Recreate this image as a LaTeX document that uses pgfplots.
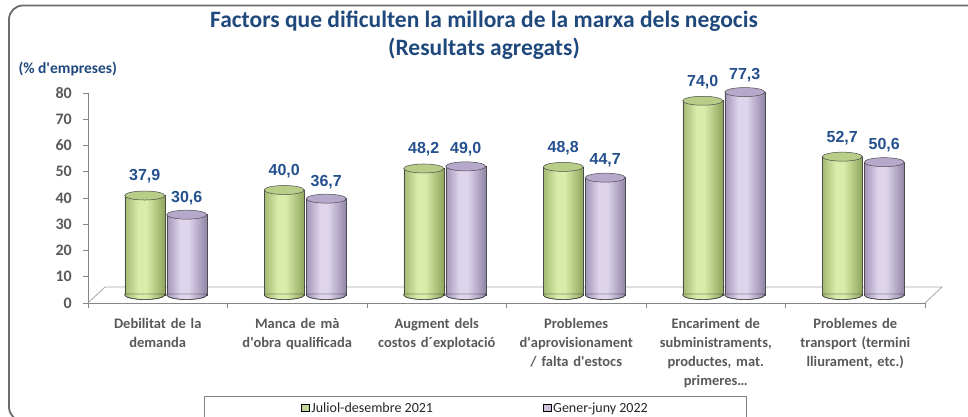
\documentclass[border=0pt]{standalone}
\usepackage{fontspec}
\setmainfont{Carlito}
\newfontfamily\arialf{Liberation Sans}
\usepackage{pgfplots}
\pgfplotsset{compat=1.18}
\newcommand\q{\textquotesingle}

\definecolor{titleblue}{HTML}{1F497D}
\definecolor{lblblue}{HTML}{24508E}
\definecolor{txtgray}{HTML}{595959}
\definecolor{axgray}{HTML}{868686}
\definecolor{floorgray}{HTML}{A6A6A6}
\definecolor{framegray}{HTML}{6B6B6B}
\definecolor{gL}{HTML}{A3BA72}
\definecolor{gC}{HTML}{DAEBAA}
\definecolor{gR}{HTML}{8FA65C}
\definecolor{gTop}{HTML}{B7CD88}
\definecolor{pL}{HTML}{A294B8}
\definecolor{pC}{HTML}{DED5ED}
\definecolor{pR}{HTML}{9185A8}
\definecolor{pTop}{HTML}{B5A8CB}
\definecolor{legG}{HTML}{C3D69B}
\definecolor{legP}{HTML}{CCC1DA}

\pgfdeclarehorizontalshading{gcylsh}{100bp}{color(0bp)=(gL); color(25bp)=(gL); color(42bp)=(gC); color(52bp)=(gC); color(75bp)=(gR); color(100bp)=(gR)}
\pgfdeclarehorizontalshading{pcylsh}{100bp}{color(0bp)=(pL); color(25bp)=(pL); color(42bp)=(pC); color(52bp)=(pC); color(75bp)=(pR); color(100bp)=(pR)}

\pgfdeclareplotmark{gtop}{\filldraw[fill=gTop, draw=black!70, line width=0.5pt] (-13pt,8pt) ellipse [x radius=20pt, y radius=4.5pt];}
\pgfdeclareplotmark{ptop}{\filldraw[fill=pTop, draw=black!70, line width=0.5pt] (29pt,8pt) ellipse [x radius=20pt, y radius=4.5pt];}
\pgfdeclareplotmark{gbot}{%
  \shade[shading=gcylsh] (-33pt,9pt) -- (-33pt,8pt) arc[start angle=180, end angle=360, x radius=20pt, y radius=4.5pt] -- (7pt,9pt) -- cycle;
  \draw[black!70, line width=0.5pt] (-33pt,9pt) -- (-33pt,8pt) arc[start angle=180, end angle=360, x radius=20pt, y radius=4.5pt] -- (7pt,9pt);}
\pgfdeclareplotmark{pbot}{%
  \shade[shading=pcylsh] (9pt,9pt) -- (9pt,8pt) arc[start angle=180, end angle=360, x radius=20pt, y radius=4.5pt] -- (49pt,9pt) -- cycle;
  \draw[black!70, line width=0.5pt] (9pt,9pt) -- (9pt,8pt) arc[start angle=180, end angle=360, x radius=20pt, y radius=4.5pt] -- (49pt,9pt);}

\newcommand\gcyl[2]{\addplot[forget plot, ybar, bar width=40pt, bar shift=-13pt, yshift=8pt, draw=black!70, line width=0.5pt, shade, shading=gcylsh] coordinates {(#1,#2)};}
\newcommand\pcyl[2]{\addplot[forget plot, ybar, bar width=40pt, bar shift=29pt, yshift=8pt, draw=black!70, line width=0.5pt, shade, shading=pcylsh] coordinates {(#1,#2)};}

\begin{document}
\begin{tikzpicture}
\draw[framegray, line width=1.8pt, rounded corners=14pt] (9pt,-4pt) rectangle (990pt,411.5pt);
\node[font=\bfseries\fontsize{23.5}{28}\selectfont, text=titleblue, align=center] at (484pt,382pt) {Factors que dificulten la millora de la marxa dels negocis\\(Resultats agregats)};
\node[font=\bfseries\fontsize{15.5}{17}\selectfont, text=titleblue, anchor=west] at (15pt,348pt) {(\% d\q empreses)};
\begin{axis}[
  at={(88pt,114pt)}, anchor=south west,
  scale only axis, width=837pt, height=210pt,
  xmin=-0.5, xmax=5.5, ymin=0, ymax=80,
  clip=false,
  axis x line*=bottom, axis y line*=left,
  axis line style={draw=axgray, line width=0.8pt, -},
  tick align=outside,
  /pgf/number format/assume math mode=true,
  ytick={0,10,20,30,40,50,60,70,80},
  yticklabels={0,10,20,30,40,50,60,70,80},
  major y tick style={draw=axgray, line width=0.8pt},
  major tick length=5pt,
  minor tick length=5pt,
  xtick={0,1,2,3,4,5},
  minor xtick={-0.5,0.5,1.5,2.5,3.5,4.5,5.5},
  major x tick style={draw=none},
  minor x tick style={draw=axgray, line width=0.8pt},
  yticklabel style={font=\bfseries\fontsize{16}{18}\selectfont, text=txtgray, anchor=east, text width=24pt, align=right, inner xsep=0pt, xshift=-11pt},
  xticklabel style={font=\bfseries\fontsize{14.5}{19}\selectfont, text=txtgray, text width=150pt, align=center, anchor=north, yshift=-7pt},
  xticklabels={{Debilitat de la\\demanda}, {Manca de mà\\d\q obra qualificada}, {Augment dels\\costos d´explotació}, {Problemes\\d\q aprovisionament\\/ falta d\q estocs}, {Encariment de\\subministraments,\\productes, mat.\\primeres\ldots}, {Problemes de\\transport (termini\\lliurament, etc.)}},
  legend columns=2,
  legend style={at={(0.463,-0.443)}, anchor=north, draw=gray, line width=0.6pt,
    font=\fontsize{14}{16}\selectfont, text=black!85, inner xsep=97pt, inner ysep=4pt,
    /tikz/every even column/.append style={column sep=108pt}},
]
\draw[floorgray, line width=0.8pt] (axis cs:-0.5,0) -- ([shift={(17pt,16pt)}]axis cs:-0.5,0) -- ([shift={(17pt,16pt)}]axis cs:5.5,0) -- (axis cs:5.5,0);

\addlegendimage{legend image code/.code={\draw[fill=legG, draw=black, line width=0.6pt] (0pt,-3.8pt) rectangle (7.5pt,3.8pt);}}
\addlegendentry{Juliol-desembre 2021}
\addlegendimage{legend image code/.code={\draw[fill=legP, draw=black, line width=0.6pt] (0pt,-3.8pt) rectangle (7.5pt,3.8pt);}}
\addlegendentry{Gener-juny 2022}

\gcyl{0}{37.9}
\gcyl{1}{40.0}
\gcyl{2}{48.2}
\gcyl{3}{48.8}
\gcyl{4}{74.0}
\gcyl{5}{52.7}
\addplot[forget plot, only marks, mark=gbot] coordinates {(0,0) (1,0) (2,0) (3,0) (4,0) (5,0)};
\addplot[forget plot, only marks, mark=gtop,
  nodes near coords,
  nodes near coords style={anchor=center, xshift=-13pt, yshift=27pt, font=\arialf\bfseries\fontsize{16}{18}\selectfont, text=lblblue, /pgf/number format/.cd, assume math mode=true, use comma, fixed, fixed zerofill, precision=1}]
  coordinates {(0,37.9) (1,40.0) (2,48.2) (3,48.8) (4,74.0) (5,52.7)};

\pcyl{0}{30.6}
\pcyl{1}{36.7}
\pcyl{2}{49.0}
\pcyl{3}{44.7}
\pcyl{4}{77.3}
\pcyl{5}{50.6}
\addplot[forget plot, only marks, mark=pbot] coordinates {(0,0) (1,0) (2,0) (3,0) (4,0) (5,0)};
\addplot[forget plot, only marks, mark=ptop,
  nodes near coords,
  nodes near coords style={anchor=center, xshift=29pt, yshift=25pt, font=\arialf\bfseries\fontsize{16}{18}\selectfont, text=lblblue, /pgf/number format/.cd, assume math mode=true, use comma, fixed, fixed zerofill, precision=1}]
  coordinates {(0,30.6) (1,36.7) (2,49.0) (3,44.7) (4,77.3) (5,50.6)};
\end{axis}
\pgfresetboundingbox
\path[use as bounding box] (0pt,0pt) rectangle (968pt,417pt);
\end{tikzpicture}
\end{document}
